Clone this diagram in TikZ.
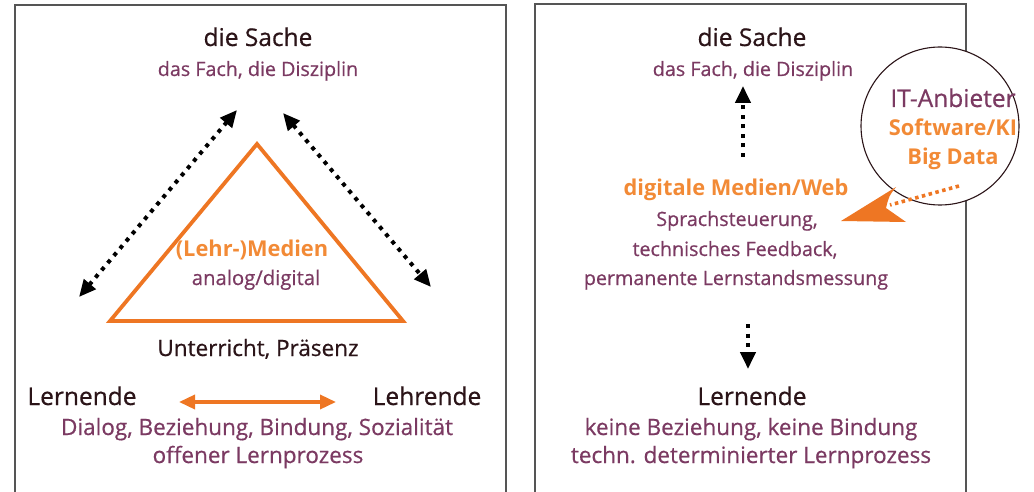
\documentclass[tikz,border=0pt]{standalone}
\usepackage{fontspec}
\setmainfont{Open Sans}[UprightFeatures={FakeBold=0.6}]
\usetikzlibrary{arrows.meta}
\definecolor{darktxt}{HTML}{2B1418}
\definecolor{purp}{HTML}{7B3A62}
\definecolor{orgtxt}{HTML}{F28A36}
\definecolor{orgline}{HTML}{EE7623}
\definecolor{frame}{HTML}{555555}
\tikzset{
  big/.style={text=darktxt, font=\fontsize{24.5}{27}\selectfont, inner sep=0pt, anchor=base},
  small/.style={text=purp, font=\fontsize{19.7}{22}\selectfont, inner sep=0pt, anchor=base},
  smallb/.style={text=purp, font=\fontsize{22.5}{25}\selectfont, inner sep=0pt, anchor=base},
  obold/.style={text=orgtxt, font=\fontsize{21.8}{24}\selectfont\bfseries, inner sep=0pt, anchor=base},
  frameline/.style={draw=frame, line width=1.2pt},
  blacktip/.tip={Triangle[length=17pt,width=15pt,line cap=butt]},
  dotarrow/.style={line width=4pt, dash pattern=on 4pt off 5.5pt, blacktip-blacktip},
  dotarrowend/.style={line width=4pt, dash pattern=on 4pt off 5.5pt, -blacktip},
}
\begin{document}
\begin{tikzpicture}[x=1pt,y=-1pt]
\useasboundingbox (0,0) rectangle (1034,492);
% frames
\draw[frameline] (15,492) -- (15,5) -- (506,5) -- (506,492);
\draw[frameline] (535,492) -- (535,4) -- (966,4) -- (966,492);

% ---------- left panel ----------
\node[big] (sacheL) at (258,46) {die Sache};
\node[small] (fachL) at (258,76) {das Fach, die Disziplin};
\draw[orgline, line width=3.8pt, line join=miter] (257,144) coordinate (tA) -- (110,321) coordinate (tB) -- (403,321) coordinate (tC) -- cycle;
\node[obold] (medien) at (252,256) {(Lehr-)Medien};
\node[small, font=\fontsize{20.3}{23}\selectfont] (analog) at (256,285) {analog/digital};
\node[big, font=\fontsize{22.5}{25}\selectfont] (unterricht) at (258,356) {Unterricht, Präsenz};
\node[big] (lernL) at (82,405) {Lernende};
\node[big] (lehr) at (427,405) {Lehrende};
\node[smallb] (dialog) at (257,435) {Dialog, Beziehung, Bindung, Sozialität};
\node[smallb] (offen) at (258,463) {offener Lernprozess};

\coordinate (la1) at (79,297);
\coordinate (la2) at (237,110);
\coordinate (ra1) at (283,113);
\coordinate (ra2) at (431,287);
\draw[dotarrow] (la1) -- (la2);
\draw[dotarrow] (ra1) -- (ra2);
\coordinate (oa1) at (179,402);
\coordinate (oa2) at (336,402);
\draw[orgline, line width=3.5pt, {Triangle[length=16pt,width=14pt]}-{Triangle[length=16pt,width=14pt]}] (oa1) -- (oa2);

% ---------- right panel ----------
\node[big] (sacheR) at (752,46) {die Sache};
\node[small] (fachR) at (753,76) {das Fach, die Disziplin};
\node[obold] (digital) at (736,196) {digitale Medien/Web};
\node[small] (sprach) at (737,226) {Sprachsteuerung,};
\node[small] (techfb) at (735,256) {technisches Feedback,};
\node[small] (perm) at (736,285) {permanente Lernstandsmessung};
\node[big] (lernR) at (752,405) {Lernende};
\node[smallb] (keine) at (751,435) {keine Beziehung, keine Bindung};
\node[smallb] (techn) at (751,463) {techn. determinierter Lernprozess};

\coordinate (ua1) at (743,157);
\coordinate (ua2) at (743,86);
\draw[dotarrowend] (ua1) -- (ua2);
\coordinate (da1) at (748,324);
\coordinate (da2) at (748,369);
\draw[dotarrowend] (da1) -- (da2);

% circle
\node[circle, draw=darktxt, line width=1.1pt, fill=white, minimum size=158pt, inner sep=0pt] (itc) at (940,126) {};
\node[text=purp, font=\fontsize{24.5}{28}\selectfont, inner sep=0pt, anchor=base] (it) at (953,107) {IT-Anbieter};
\node[text=orgtxt, font=\fontsize{21.8}{24}\selectfont\bfseries, inner sep=0pt, anchor=base] (sw) at (953,136) {Software/KI};
\node[text=orgtxt, font=\fontsize{21.8}{24}\selectfont\bfseries, inner sep=0pt, anchor=base] (bd) at (953,165) {Big Data};

% orange pointer
\coordinate (pstart) at (959,186);
\coordinate (pnotch) at (890,205);
\draw[orgline, line width=3.6pt, dash pattern=on 3.5pt off 3.5pt] (pstart) -- (pnotch);
\fill[orgline] (841,221) -- (896,187) .. controls (889,196) .. (886,208) -- (906,222) -- cycle;
\end{tikzpicture}
\end{document}
